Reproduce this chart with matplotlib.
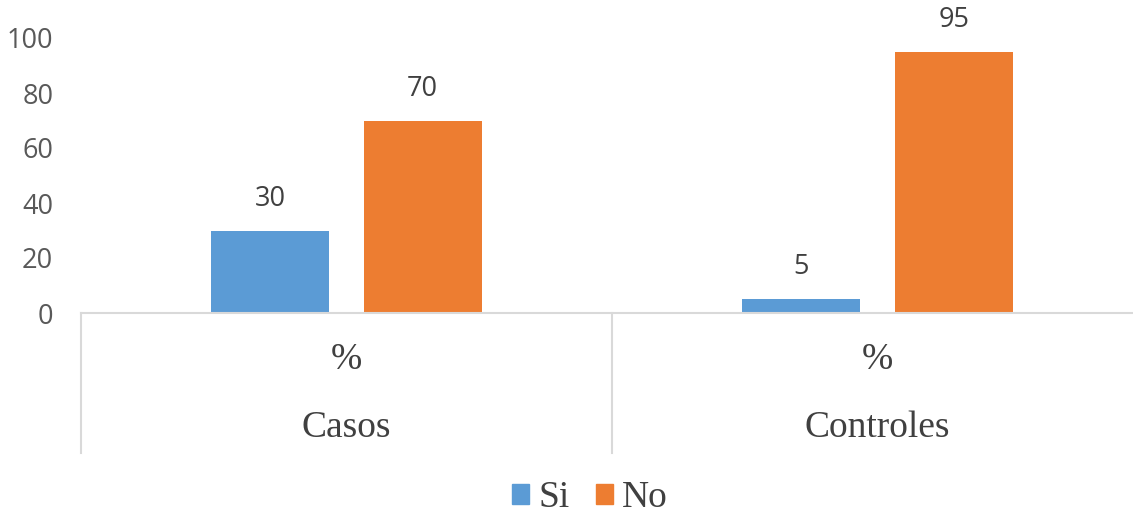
import matplotlib
matplotlib.use("Agg")
import matplotlib.pyplot as plt
from matplotlib.patches import Patch
import matplotlib.transforms as mtransforms
import numpy as np

categories = ["Casos", "Controles"]
sub_label = "%"
series_names = ["Si", "No"]
si_values = [30, 5]
no_values = [70, 95]
yticks = [0, 20, 40, 60, 80, 100]

colors = ["#5B9BD5", "#ED7D31"]
W, H = 1133, 517
fig = plt.figure(figsize=(W / 100, H / 100), dpi=100)
ax = fig.add_axes([81 / W, 1 - 313 / H, (1143 - 81) / W, 275 / H])

x = np.arange(len(categories))
bw = 0.222
off = 0.1435
for vals, dx, c in [(si_values, -off, colors[0]), (no_values, off, colors[1])]:
    bars = ax.bar(x + dx, vals, width=bw, color=c, zorder=2)
    for b, v in zip(bars, vals):
        ax.annotate(f"{v}", (b.get_x() + b.get_width() / 2, v), xytext=(0, 23),
                    textcoords="offset points", ha="center", va="center",
                    fontsize=19.5, color="#404040", family="Open Sans")

ax.set_xlim(-0.5, len(categories) - 0.5)
ax.set_ylim(0, 100)
ax.set_yticks(yticks)
ax.set_yticklabels([str(t) for t in yticks], fontsize=19.5, color="#595959", family="Open Sans")
ax.tick_params(axis="y", length=0, pad=20)
ax.set_xticks([])
for s in ["top", "right", "left"]:
    ax.spines[s].set_visible(False)
ax.spines["bottom"].set_color("#D9D9D9")
ax.spines["bottom"].set_linewidth(1.5)

trans = mtransforms.blended_transform_factory(ax.transData, ax.transAxes)
for xd in np.arange(-0.5, len(categories), 1.0):
    ax.plot([xd, xd], [0, -140 / 275], transform=trans, color="#D9D9D9", lw=1.5, clip_on=False)
for i, cat in enumerate(categories):
    ax.text(i, -47 / 275, sub_label, transform=trans, ha="center", va="center",
            fontsize=27, family="Liberation Serif", color="#404040")
    ax.text(i, -115 / 275, cat, transform=trans, ha="center", va="center",
            fontsize=27, family="Liberation Serif", color="#404040")

handles = [Patch(color=c) for c in colors]
leg = fig.legend(handles, series_names, loc="center", bbox_to_anchor=(590 / W, 1 - 498 / H),
                 ncol=2, frameon=False, prop={"family": "Liberation Serif", "size": 27},
                 handlelength=0.45, handleheight=0.45, handletextpad=0.25, columnspacing=0.7,
                 labelcolor="#404040")

fig.savefig("out.png", dpi=100)
